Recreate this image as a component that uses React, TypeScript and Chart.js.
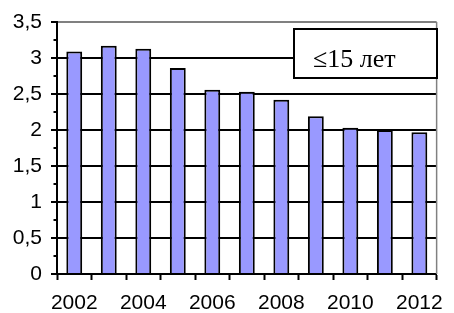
import React, { useEffect, useRef } from "react";
import { Chart, registerables } from "chart.js";

Chart.register(...registerables);

const years = ["2002", "2003", "2004", "2005", "2006", "2007", "2008", "2009", "2010", "2011", "2012"];
const values = [3.09, 3.17, 3.13, 2.86, 2.56, 2.53, 2.42, 2.19, 2.03, 2.0, 1.97];
const yTicks = [0, 0.5, 1, 1.5, 2, 2.5, 3, 3.5];
const minorTicks = [0.25, 0.75, 1.25, 1.75, 2.25, 2.75, 3.25];
const legendText = "\u226415 лет";

const framePlugin = {
  id: "frame",
  afterDraw(chart: any) {
    const ctx = chart.ctx;
    const { left, right, top, bottom } = chart.chartArea;
    const y = chart.scales.y;
    ctx.save();
    // right gray border
    ctx.strokeStyle = "#808080";
    ctx.lineWidth = 1.5;
    ctx.beginPath();
    ctx.moveTo(right, top);
    ctx.lineTo(right, bottom);
    ctx.stroke();
    // minor ticks
    ctx.strokeStyle = "#000";
    ctx.lineWidth = 2;
    for (const v of minorTicks) {
      const py = Math.round(y.getPixelForValue(v));
      ctx.beginPath();
      ctx.moveTo(left - 3.5, py);
      ctx.lineTo(left, py);
      ctx.stroke();
    }
    // legend box
    const bx = 294, by = 29, bw = 143, bh = 49;
    ctx.fillStyle = "#fff";
    ctx.fillRect(bx, by, bw, bh);
    ctx.strokeStyle = "#000";
    ctx.lineWidth = 2;
    ctx.strokeRect(bx, by, bw, bh);
    ctx.fillStyle = "#000";
    ctx.font = "26px 'Liberation Serif', 'Times New Roman', serif";
    ctx.textBaseline = "alphabetic";
    ctx.textAlign = "left";
    ctx.fillText(legendText, 313, 67);
    ctx.restore();
  },
};

export default function App() {
  const ref = useRef<HTMLCanvasElement>(null);
  useEffect(() => {
    const chart = new Chart(ref.current!, {
      type: "bar",
      data: {
        labels: years,
        datasets: [
          {
            data: values,
            backgroundColor: "#9999FF",
            borderColor: "#000",
            borderWidth: 2,
            barPercentage: 0.46,
            categoryPercentage: 1,
          },
        ],
      },
      options: {
        responsive: false,
        animation: false,
        layout: { padding: { left: 0, top: 22, right: 6, bottom: 0 } },
        plugins: { legend: { display: false }, tooltip: { enabled: false } },
        scales: {
          x: {
            offset: true,
            grid: {
              display: true,
              offset: true,
              drawOnChartArea: false,
              drawTicks: true,
              tickLength: 6,
              tickColor: "#000",
              tickWidth: 2,
            },
            border: { display: true, color: "#000", width: 2 },
            ticks: {
              autoSkip: false,
              maxRotation: 0,
              padding: 11,
              color: "#000",
              font: { family: "'Liberation Sans', Arial, sans-serif", size: 21 },
              callback: (_v: any, i: number) => (i % 2 === 0 ? years[i] : ""),
            },
            afterFit: (s: any) => {
              s.height = 39;
            },
          },
          y: {
            min: 0,
            max: 3.5,
            afterBuildTicks: (s: any) => {
              s.ticks = yTicks.map((v) => ({ value: v }));
            },
            grid: {
              color: (c: any) => (c.tick && c.tick.value === 3.5 ? "#808080" : "#000"),
              lineWidth: 2,
              tickLength: 6,
              tickColor: "#000",
              tickWidth: 2,
            },
            border: { display: true, color: "#000", width: 2 },
            ticks: {
              padding: 9,
              color: "#000",
              font: { family: "'Liberation Sans', Arial, sans-serif", size: 21 },
              callback: (v: any) => String(v).replace(".", ","),
            },
            afterFit: (s: any) => {
              s.width = 57;
            },
          },
        },
      },
      plugins: [framePlugin],
    });
    return () => chart.destroy();
  }, []);
  return (
    <div style={{ position: "fixed", left: 0, top: 0, width: 454, height: 313, background: "#fff" }}>
      <canvas ref={ref} width={454} height={313} />
    </div>
  );
}
